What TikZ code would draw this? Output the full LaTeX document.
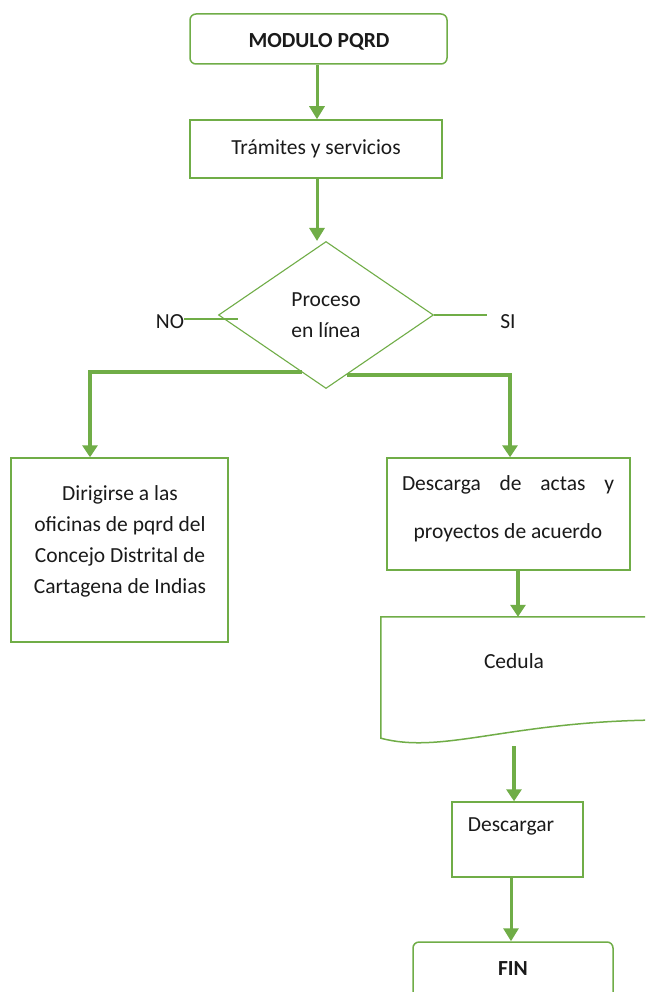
\documentclass[tikz,border=0pt]{standalone}
\usepackage{fontspec}
\setmainfont{Carlito}
\usetikzlibrary{shapes.geometric,arrows.meta,calc}
\definecolor{gr}{HTML}{70AD47}
\definecolor{tx}{HTML}{1A1A1A}
\begin{document}
\begin{tikzpicture}[x=1pt,y=-1pt,
  every node/.style={font=\fontsize{21.5}{31}\selectfont, text=tx},
  box/.style={draw=gr, line width=1.5pt, inner sep=0pt, rectangle},
  term/.style={box, rounded corners=6pt},
  arr/.style={draw=gr, line width=3pt, -{Triangle[width=15pt,length=13pt]}},
  thk/.style={draw=gr, line width=4pt, -{Triangle[width=15pt,length=12pt]}},
  thin/.style={draw=gr, line width=1.1pt},
  lbl/.style={inner sep=0pt, align=center}]
\clip (0,0) rectangle (645,992);
\fill[white] (0,0) rectangle (645,992);
% nodes
\node[term, minimum width=257pt, minimum height=50pt] (mod) at (318.5,39) {};
\node[lbl, font=\bfseries\fontsize{21.5}{31}\selectfont] (modt) at (319,42) {MODULO PQRD};
\node[box, minimum width=252pt, minimum height=58pt] (tram) at (316,149) {Trámites y servicios};
\node[diamond, draw=gr, line width=1.1pt, minimum width=215pt, minimum height=147pt, aspect=1.46, inner sep=0pt, align=center] (dec) at (326,315) {Proceso\\en línea};
\node[lbl] (no) at (170,322) {NO};
\node[lbl] (si) at (508,322) {SI};
\coordinate (noend) at (238,319);
\coordinate (siend) at (487,314);
\node[box, minimum width=217pt, minimum height=184pt] (lft) at (119.5,550) {};
\node[lbl] (lftt) at (120,541) {Dirigirse a las\\oficinas de pqrd del\\Concejo Distrital de\\Cartagena de Indias};
\node[box, minimum width=243pt, minimum height=112pt] (rgt) at (508.5,514) {};
\node[lbl, font=\fontsize{21.5}{48}\selectfont] (rgtt) at (508,509) {\makebox[212pt][s]{Descarga de actas y}\\proyectos de acuerdo};
\node[inner sep=0pt, minimum width=264pt, minimum height=128pt] (doc) at (513,681) {};
\node[lbl] (doct) at (514,661) {Cedula};
\node[box, minimum width=131pt, minimum height=75pt] (desc) at (517.5,839.5) {};
\node[lbl] (desct) at (511,826) {Descargar};
\node[term, minimum width=200pt, minimum height=80pt] (fin) at (513,982) {};
\node[lbl, font=\bfseries\fontsize{21.5}{31}\selectfont] (fint) at (513,969) {FIN};
% document shape
\draw[thin, line width=1.5pt] (doc.north east) -- (doc.north west) -- ([yshift=7pt]doc.south west)
  .. controls ([xshift=60pt,yshift=-9pt]doc.south west) and ([xshift=-140pt,yshift=22pt]doc.south east) .. ([yshift=25pt]doc.south east);
% connectors
\coordinate (c1) at (317,0);
\draw[arr] (c1 |- mod.south) -- (c1 |- tram.north);
\draw[arr] (c1 |- tram.south) -- (c1 |- dec.north);
\draw[thin] (no.east |- noend) -- (noend);
\draw[thin] (dec.east) -- (dec.east -| siend);
\draw[thk] ($(dec.west)!0.775!(dec.south)$) -| ([xshift=-29.5pt]lft.north);
\draw[thk] ($(dec.east)!0.81!(dec.south)$) -| ([xshift=1.5pt]rgt.north);
\draw[thk] ([xshift=9.5pt]rgt.south) -- ([xshift=5pt]doc.north);
\draw[thk] ([yshift=-1pt,xshift=1pt]doc.south) -- ([xshift=-3.5pt]desc.north);
\draw[arr] ([xshift=-6.5pt]desc.south) -- ([xshift=-2pt]fin.north);
\end{tikzpicture}
\end{document}
